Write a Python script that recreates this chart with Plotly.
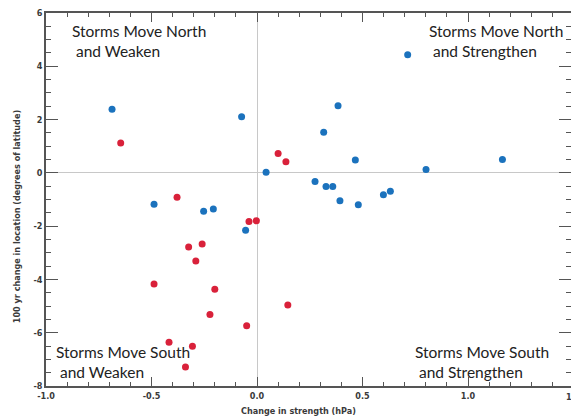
import plotly.graph_objects as go

# Blue series (change in strength, change in location)
blue_x = [-0.687, -0.073, 0.043, -0.488, -0.253, -0.207, -0.054, 0.384, 0.316, 0.466,
          0.801, 1.163, 0.275, 0.327, 0.359, 0.393, 0.480, 0.599, 0.632, 0.714]
blue_y = [2.39, 2.11, 0.02, -1.18, -1.44, -1.36, -2.15, 2.52, 1.52, 0.48,
          0.13, 0.50, -0.32, -0.51, -0.51, -1.05, -1.20, -0.82, -0.69, 4.43]

# Red series
red_x = [-0.646, 0.100, 0.137, -0.379, -0.038, -0.003, -0.324, -0.260, -0.290,
         -0.488, -0.200, -0.223, -0.049, -0.417, -0.306, -0.339, 0.146]
red_y = [1.12, 0.73, 0.42, -0.92, -1.83, -1.80, -2.78, -2.67, -3.31,
         -4.17, -4.37, -5.32, -5.74, -6.36, -6.51, -7.29, -4.96]

x_tickvals = [-1.0, -0.5, 0.0, 0.5, 1.0]
x_ticktext = ["-1.0", "-0.5", "0.0", "0.5", "1.0"]
y_tickvals = [-8, -6, -4, -2, 0, 2, 4, 6]
y_ticktext = ["-8", "-6", "-4", "-2", "0", "2", "4", "6"]

quadrant_labels = ["Storms Move North<br> and Weaken",
                   "Storms Move North<br> and Strengthen",
                   "Storms Move South<br> and Weaken",
                   "Storms Move South<br> and Strengthen"]

x_title = "Change in strength (hPa)"
y_title = "100 yr change in location (degrees of latitude)"

BLUE = "#1b72bd"
RED = "#d9213a"
AXIS = "#555555"
TICKFONT = dict(family="Liberation Sans Narrow, DejaVu Sans Condensed, Arial", size=9,
                color="#3a3a3a", weight="bold")

fig = go.Figure()
fig.add_trace(go.Scatter(x=blue_x, y=blue_y, mode="markers",
                         marker=dict(color=BLUE, size=7, line=dict(width=0)),
                         showlegend=False, cliponaxis=False))
fig.add_trace(go.Scatter(x=red_x, y=red_y, mode="markers",
                         marker=dict(color=RED, size=7, line=dict(width=0)),
                         showlegend=False, cliponaxis=False))

fig.update_layout(
    width=571, height=419,
    margin=dict(l=46, r=0, t=13, b=33, autoexpand=False),
    paper_bgcolor="white", plot_bgcolor="white",
    xaxis=dict(range=[-1.0, 1.488], tickvals=x_tickvals, ticktext=x_ticktext, automargin=False,
               ticks="inside", ticklen=9, tickwidth=1.2, tickcolor=AXIS,
               minor=dict(dtick=0.1, ticks="inside", ticklen=4, tickwidth=1, tickcolor=AXIS),
               showline=True, linecolor=AXIS, linewidth=1.5, mirror="ticks",
               showgrid=False, zeroline=True, zerolinecolor="#c8c8c8", zerolinewidth=1,
               tickfont=TICKFONT),
    yaxis=dict(range=[-8, 6], tickvals=y_tickvals, ticktext=y_ticktext, automargin=False,
               ticks="inside", ticklen=12, tickwidth=1.2, tickcolor=AXIS,
               minor=dict(dtick=0.5, ticks="inside", ticklen=5, tickwidth=1, tickcolor=AXIS),
               showline=True, linecolor=AXIS, linewidth=1.5, mirror="ticks",
               showgrid=False, zeroline=True, zerolinecolor="#c8c8c8", zerolinewidth=1,
               tickfont=TICKFONT),
)

qfont = dict(family="Lato, Open Sans, sans-serif", size=15.5, color="#222222")
qpos = [(-0.888, 5.73), (0.806, 5.73), (-0.963, -6.30), (0.738, -6.30)]
for (qx, qy), txt in zip(qpos, quadrant_labels):
    fig.add_annotation(x=qx, y=qy, xref="x", yref="y", text=txt, showarrow=False,
                       xanchor="left", yanchor="top", align="left", font=qfont)

title_font = dict(family="Liberation Sans Narrow, DejaVu Sans Condensed, Arial", size=9, color="#3a3a3a")
fig.add_annotation(x=0.48, y=-0.067, xref="paper", yref="paper", text="<b>" + x_title + "</b>",
                   showarrow=False, xanchor="center", yanchor="middle", font=title_font)
fig.add_annotation(x=-0.055, y=0.453, xref="paper", yref="paper", text="<b>" + y_title + "</b>",
                   showarrow=False, textangle=-90, xanchor="center", yanchor="middle", font=title_font)
# partially visible last tick label at the right edge
fig.add_annotation(x=1.0048, y=-0.03, xref="paper", yref="paper", text="<b>1.5</b>",
                   showarrow=False, xanchor="center", yanchor="middle", font=TICKFONT)

fig.write_html("out.html", config={"displayModeBar": False},
               post_script="document.body.style.margin='0';document.body.style.overflow='hidden';")
